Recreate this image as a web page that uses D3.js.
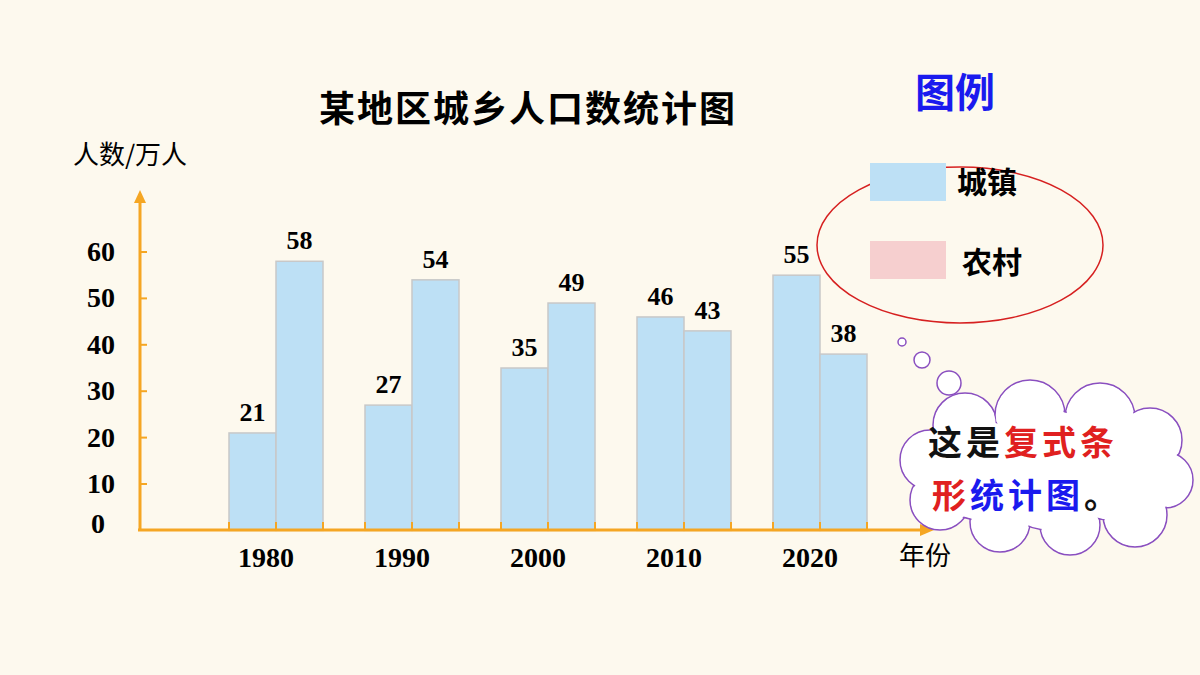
<!DOCTYPE html>
<html><head><meta charset="utf-8">
<script src="https://cdn.jsdelivr.net/npm/d3@7"></script>
<style>body{margin:0;background:#fdf9ee}</style></head>
<body><svg id="c" width="1200" height="675"></svg>
<script>
const years = ["1980","1990","2000","2010","2020"];
const urban = [21,27,35,46,55];
const rural = [58,54,49,43,38];
const yTicks = [0,10,20,30,40,50,60];

const svg = d3.select("#c");
svg.append("rect").attr("width",1200).attr("height",675).attr("fill","#fdf9ee");
const serif = "'Liberation Serif','Noto Serif CJK SC','Noto Sans CJK SC',serif";
const cjk = "'Noto Sans CJK SC',sans-serif";
const orange = "#f5a623";

const x = d3.scalePoint().domain(years).range([276,820]);
const y = d3.scaleLinear().domain([0,60]).range([530.4,252]);
const bw = 47;

const g = svg.append("g");
years.forEach((yr,i)=>{
  [[urban[i],-bw],[rural[i],0]].forEach(([v,off])=>{
    g.append("rect").attr("x",x(yr)+off).attr("y",y(v)).attr("width",bw).attr("height",y(0)-y(v))
      .attr("fill","#bde0f5").attr("stroke","#c8c8c8").attr("stroke-width",1.5);
    g.append("text").attr("x",x(yr)+off+bw/2).attr("y",y(v)-12).attr("text-anchor","middle")
      .attr("font-family",serif).attr("font-weight","bold").attr("font-size",26).text(v);
  });
});

svg.append("line").attr("x1",140).attr("y1",530).attr("x2",140).attr("y2",200).attr("stroke",orange).attr("stroke-width",3);
svg.append("path").attr("d","M134,203 L140,190 L146,203 Z").attr("fill",orange);
svg.append("line").attr("x1",138).attr("y1",530).attr("x2",925).attr("y2",530).attr("stroke",orange).attr("stroke-width",3);
svg.append("path").attr("d","M920,524 L934,530 L920,536 Z").attr("fill",orange);
yTicks.forEach(t=>{
  if(t>0) svg.append("line").attr("x1",140).attr("x2",147).attr("y1",y(t)).attr("y2",y(t)).attr("stroke",orange).attr("stroke-width",2);
  svg.append("text").attr("x",t===0?105:115).attr("y",y(t)+(t===0?3:9)).attr("text-anchor","end")
    .attr("font-family",serif).attr("font-weight","bold").attr("font-size",28).text(t);
});
years.forEach(yr=>{
  [-bw,0,bw].forEach(o=>svg.append("line").attr("x1",x(yr)+o).attr("x2",x(yr)+o).attr("y1",522).attr("y2",530).attr("stroke",orange).attr("stroke-width",2));
  svg.append("text").attr("x",x(yr)-10).attr("y",567).attr("text-anchor","middle")
    .attr("font-family",serif).attr("font-weight","bold").attr("font-size",28).text(yr);
});
svg.append("text").attr("x",925).attr("y",565).attr("text-anchor","middle").attr("font-family",cjk).attr("font-size",26).text("年份");
svg.append("text").attr("x",130).attr("y",164).attr("text-anchor","middle").attr("font-family",cjk).attr("font-size",26).text("人数/万人");
svg.append("text").attr("x",528).attr("y",122).attr("text-anchor","middle").attr("font-family",cjk).attr("font-weight","bold").attr("font-size",36).attr("letter-spacing",2).text("某地区城乡人口数统计图");

svg.append("text").attr("x",955).attr("y",107).attr("text-anchor","middle").attr("font-family",cjk).attr("font-weight","bold").attr("font-size",40).attr("fill","#1a1aee").text("图例");
svg.append("ellipse").attr("cx",960).attr("cy",245).attr("rx",143).attr("ry",78).attr("fill","none").attr("stroke","#d62020").attr("stroke-width",1.5);
svg.append("rect").attr("x",870).attr("y",163).attr("width",76).attr("height",38).attr("fill","#bde0f5");
svg.append("rect").attr("x",870).attr("y",241).attr("width",76).attr("height",38).attr("fill","#f6cfcf");
svg.append("text").attr("x",957).attr("y",193).attr("font-family",cjk).attr("font-weight","bold").attr("font-size",30).text("城镇");
svg.append("text").attr("x",962).attr("y",273).attr("font-family",cjk).attr("font-weight","bold").attr("font-size",30).text("农村");

const purple="#8a4fc0";
[[902,342,4],[922,360,8],[949,383,12]].forEach(([cx,cy,r])=>svg.append("circle").attr("cx",cx).attr("cy",cy).attr("r",r).attr("fill","white").attr("stroke",purple).attr("stroke-width",1.5));
const lobes=[[965,425,32],[1030,415,35],[1100,418,35],[1150,440,32],[1165,480,28],[1135,515,32],[1070,525,30],[1000,522,30],[940,500,30],[930,460,30],[1050,470,60],[980,470,50],[1110,470,50]];
lobes.forEach(([cx,cy,r])=>svg.append("circle").attr("cx",cx).attr("cy",cy).attr("r",r).attr("fill","white").attr("stroke",purple).attr("stroke-width",1.5));
lobes.forEach(([cx,cy,r])=>svg.append("circle").attr("cx",cx).attr("cy",cy).attr("r",r-1.2).attr("fill","white"));
const t1=svg.append("text").attr("x",928).attr("y",455).attr("font-family",cjk).attr("font-weight","bold").attr("font-size",34).attr("letter-spacing",4);
t1.append("tspan").attr("fill","#111").text("这是");
t1.append("tspan").attr("fill","#e02020").text("复式条");
const t2=svg.append("text").attr("x",932).attr("y",508).attr("font-family",cjk).attr("font-weight","bold").attr("font-size",34).attr("letter-spacing",4);
t2.append("tspan").attr("fill","#e02020").text("形");
t2.append("tspan").attr("fill","#1a1aee").text("统计图");
t2.append("tspan").attr("fill","#111").text("。");
</script></body></html>
